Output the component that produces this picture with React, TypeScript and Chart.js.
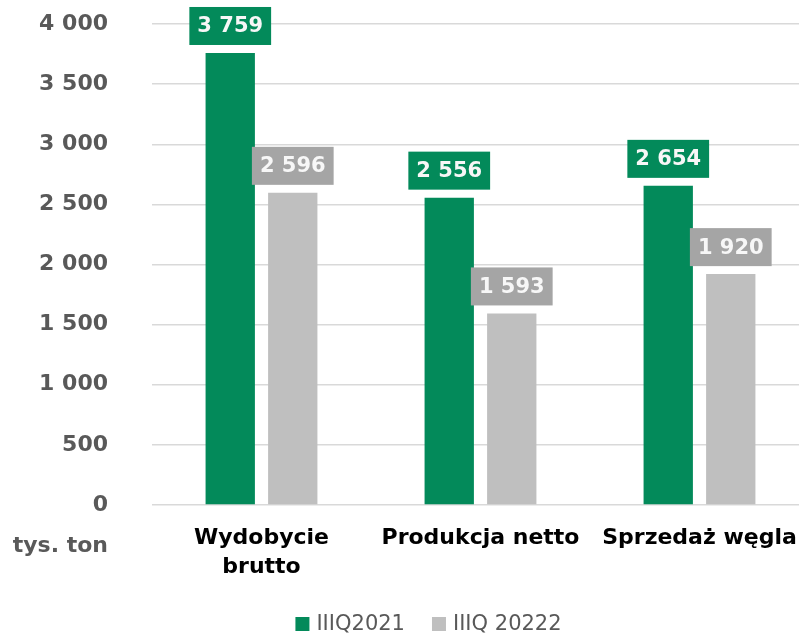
import React, { useEffect, useRef } from "react";
import { Chart, registerables } from "chart.js";

Chart.register(...registerables);

const categories: (string | string[])[] = [["Wydobycie", "brutto"], "Produkcja netto", "Sprzedaż węgla"];
const seriesNames = ["IIIQ2021", "IIIQ 20222"];
const values2021 = [3759, 2556, 2654];
const values2022 = [2596, 1593, 1920];
const yMin = 0;
const yMax = 4000;
const yStep = 500;
const unitLabel = "tys. ton";

const barColors = ["#038A5A", "#BFBFBF"];
const boxColors = ["#038A5A", "#A5A5A5"];
const FONT = "'DejaVu Sans', sans-serif";

const fmt = (v: number) => String(v).replace(/\B(?=(\d{3})+(?!\d))/g, " ");

const valueBoxes = {
  id: "valueBoxes",
  afterDatasetsDraw(chart: any) {
    const ctx = chart.ctx;
    ctx.save();
    ctx.font = `bold 21px ${FONT}`;
    ctx.textAlign = "center";
    ctx.textBaseline = "middle";
    chart.data.datasets.forEach((ds: any, di: number) => {
      const meta = chart.getDatasetMeta(di);
      meta.data.forEach((el: any, i: number) => {
        const txt = fmt(ds.data[i]);
        const w = ctx.measureText(txt).width + 16;
        const h = 38;
        const bottom = el.y - 8;
        ctx.fillStyle = boxColors[di];
        ctx.fillRect(el.x - w / 2, bottom - h, w, h);
        ctx.fillStyle = "#F7F7F7";
        ctx.fillText(txt, el.x, bottom - h / 2 + 1);
      });
    });
    // unit label
    ctx.font = `bold 22px ${FONT}`;
    ctx.fillStyle = "#595959";
    ctx.textAlign = "right";
    ctx.fillText(unitLabel, chart.chartArea.left - 44, chart.chartArea.bottom + 41);

    // custom legend
    ctx.font = `normal 21px ${FONT}`;
    ctx.textAlign = "left";
    const box = 14;
    const gapText = 7;
    const gapItem = 27;
    const items = chart.data.datasets.map((ds: any) => ({
      label: ds.label,
      color: ds.backgroundColor,
      w: box + gapText + ctx.measureText(ds.label).width,
    }));
    const total = items.reduce((a: number, it: any) => a + it.w, 0) + gapItem * (items.length - 1);
    let x = chart.width / 2 + 24 - total / 2;
    const cy = chart.height - 13;
    items.forEach((it: any) => {
      ctx.fillStyle = it.color;
      ctx.fillRect(x, cy - box / 2, box, box);
      ctx.fillStyle = "#595959";
      ctx.fillText(it.label, x + box + gapText, cy + 1);
      x += it.w + gapItem;
    });
    ctx.restore();
  },
};

export default function App() {
  const ref = useRef<HTMLCanvasElement | null>(null);
  useEffect(() => {
    if (!ref.current) return;
    const chart = new Chart(ref.current, {
      type: "bar",
      data: {
        labels: categories,
        datasets: [
          {
            label: seriesNames[0],
            data: values2021,
            backgroundColor: barColors[0],
            categoryPercentage: 0.571,
            barPercentage: 0.789,
          },
          {
            label: seriesNames[1],
            data: values2022,
            backgroundColor: barColors[1],
            categoryPercentage: 0.571,
            barPercentage: 0.789,
          },
        ],
      },
      options: {
        animation: false,
        responsive: true,
        maintainAspectRatio: false,
        layout: { padding: { top: 24, left: 0, right: 0, bottom: 47 } },
        plugins: {
          tooltip: { enabled: false },
          legend: { display: false },
        },
        scales: {
          x: {
            grid: { display: false },
            border: { display: false },
            ticks: {
              color: "#000000",
              padding: 11,
              maxRotation: 0,
              autoSkip: false,
              font: { family: FONT, size: 22, weight: "bold", lineHeight: 1.32 },
            },
            afterFit: (s: any) => {
              s.height = 85;
            },
          },
          y: {
            min: yMin,
            max: yMax,
            border: { display: false },
            grid: { color: "#D9D9D9", lineWidth: 1.5, drawTicks: false },
            ticks: {
              stepSize: yStep,
              padding: 44,
              color: "#595959",
              font: { family: FONT, size: 22, weight: "bold" },
              callback: (v: any) => fmt(Number(v)),
            },
            afterFit: (s: any) => {
              s.width = 152;
              s.paddingTop = 0;
              s.paddingBottom = 0;
            },
          },
        },
      },
      plugins: [valueBoxes],
    });
    return () => chart.destroy();
  }, []);
  return (
    <div style={{ position: "fixed", left: 0, top: 0, width: 799, height: 637, overflow: "hidden", background: "#fff" }}>
      <div style={{ position: "relative", width: 809, height: 637 }}>
        <canvas ref={ref} />
      </div>
    </div>
  );
}
